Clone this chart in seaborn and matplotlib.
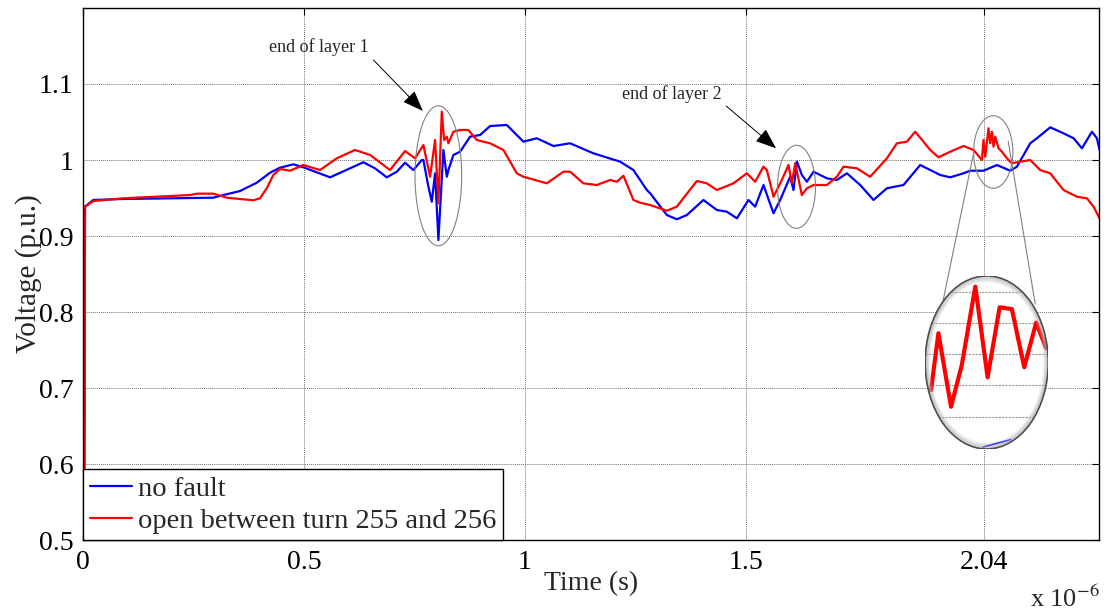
import numpy as np
import pandas as pd
import matplotlib
matplotlib.use("Agg")
import matplotlib.pyplot as plt
from matplotlib.patches import Ellipse
import seaborn as sns

# Terminal voltage after energisation; time in microseconds, voltage in p.u.
t_nofault = [0.0, 0.0039, 0.0226, 0.0906, 0.2945, 0.3171, 0.3549, 0.3928, 0.4229, 0.4455,
             0.4757, 0.4983, 0.5588, 0.6342, 0.6607, 0.6872, 0.7098, 0.7286, 0.7474, 0.7665,
             0.7701, 0.7807, 0.7891, 0.7966, 0.8041, 0.8154, 0.8231, 0.8267, 0.8381, 0.8532,
             0.8759, 0.8985, 0.9212, 0.9590, 0.9966, 1.0269, 1.0646, 1.1024, 1.1551, 1.2156,
             1.2457, 1.2761, 1.2836, 1.3214, 1.3440, 1.3667, 1.4043, 1.4347, 1.4573, 1.4800,
             1.5062, 1.5214, 1.5402, 1.5629, 1.5780, 1.6007, 1.6082, 1.6159, 1.6272, 1.6385,
             1.6535, 1.6838, 1.7065, 1.7291, 1.7592, 1.7894, 1.8197, 1.8573, 1.8951, 1.9404,
             1.9631, 1.9932, 2.0084, 2.0385, 2.0689, 2.0990, 2.1141, 2.1443, 2.1594, 2.1896,
             2.2197, 2.2424, 2.2614, 2.2840, 2.2953, 2.3012]
v_nofault = [0.0, 0.9386, 0.9474, 0.9487, 0.9504, 0.9539, 0.9592, 0.9701, 0.9833, 0.9899,
             0.9943, 0.9904, 0.9772, 0.9970, 0.9890, 0.9772, 0.9846, 0.9964, 0.9868, 1.0000,
             1.0000, 0.9670, 0.9451, 0.9825, 0.8947, 1.0132, 0.9780, 0.9868, 1.0066, 1.0109,
             1.0307, 1.0329, 1.0447, 1.0461, 1.0241, 1.0286, 1.0184, 1.0220, 1.0088, 0.9978,
             0.9868, 0.9605, 0.9562, 0.9276, 0.9220, 0.9276, 0.9474, 0.9342, 0.9320, 0.9233,
             0.9474, 0.9386, 0.9671, 0.9299, 0.9474, 0.9780, 0.9605, 0.9978, 0.9803, 0.9714,
             0.9846, 0.9759, 0.9737, 0.9825, 0.9671, 0.9474, 0.9628, 0.9671, 0.9934, 0.9803,
             0.9772, 0.9825, 0.9859, 0.9859, 0.9934, 0.9859, 0.9912, 1.0220, 1.0286, 1.0430,
             1.0351, 1.0286, 1.0154, 1.0372, 1.0286, 1.0132]

t_open = [0.0, 0.0039, 0.0226, 0.0906, 0.2417, 0.2568, 0.2945, 0.3248, 0.3851, 0.4002,
          0.4154, 0.4304, 0.4455, 0.4682, 0.4983, 0.5360, 0.5739, 0.6154, 0.6494, 0.6947,
          0.7286, 0.7513, 0.7701, 0.7853, 0.7966, 0.8041, 0.8118, 0.8170, 0.8231, 0.8267,
          0.8381, 0.8532, 0.8720, 0.8911, 0.9060, 0.9212, 0.9513, 0.9817, 0.9966, 1.0496,
          1.0872, 1.1024, 1.1325, 1.1629, 1.1930, 1.2082, 1.2231, 1.2457, 1.2609, 1.2836,
          1.3214, 1.3440, 1.3894, 1.4120, 1.4347, 1.4723, 1.5026, 1.5214, 1.5402, 1.5479,
          1.5629, 1.5818, 1.5968, 1.6045, 1.6120, 1.6272, 1.6385, 1.6535, 1.6838, 1.7065,
          1.7214, 1.7517, 1.7819, 1.8197, 1.8423, 1.8650, 1.8838, 1.9026, 1.9178, 1.9366,
          1.9631, 1.9932, 2.0159, 2.0349, 2.0385, 2.0424, 2.0498, 2.0536, 2.0575, 2.0612,
          2.0650, 2.0725, 2.0802, 2.0915, 2.1028, 2.1216, 2.1443, 2.1670, 2.1896, 2.2197,
          2.2501, 2.2727, 2.2877, 2.3012]
v_open = [0.0, 0.9386, 0.9460, 0.9496, 0.9539, 0.9557, 0.9557, 0.9504, 0.9470, 0.9496,
          0.9628, 0.9803, 0.9882, 0.9859, 0.9934, 0.9868, 1.0022, 1.0132, 1.0066, 0.9868,
          1.0118, 1.0022, 1.0197, 0.9780, 1.0263, 0.9430, 1.0636, 1.0263, 1.0307, 1.0220,
          1.0372, 1.0395, 1.0395, 1.0263, 1.0241, 1.0220, 1.0132, 0.9825, 0.9780, 0.9693,
          0.9846, 0.9846, 0.9693, 0.9671, 0.9737, 0.9714, 0.9793, 0.9474, 0.9438, 0.9408,
          0.9333, 0.9386, 0.9724, 0.9693, 0.9605, 0.9693, 0.9825, 0.9714, 0.9912, 0.9868,
          0.9517, 0.9737, 0.9934, 0.9693, 0.9957, 0.9539, 0.9628, 0.9671, 0.9671, 0.9780,
          0.9912, 0.9891, 0.9780, 1.0022, 1.0220, 1.0241, 1.0372, 1.0241, 1.0132, 1.0036,
          1.0109, 1.0184, 1.0132, 1.0000, 1.0263, 1.0043, 1.0417, 1.0220, 1.0372, 1.0175,
          1.0307, 1.0154, 1.0109, 1.0022, 0.9957, 0.9978, 1.0000, 0.9868, 0.9825, 0.9605,
          0.9517, 0.9496, 0.9386, 0.9233]

# Magnified view of the oscillation just after 2.04 us
t_zoom_open = [2.0369, 2.0393, 2.0434, 2.0469, 2.0513, 2.0553, 2.0592, 2.0632, 2.0672, 2.0711, 2.0743]
v_zoom_open = [1.0085, 1.0267, 1.0032, 1.0165, 1.0416, 1.0126, 1.0350, 1.0344, 1.0158, 1.0301, 1.0219]
t_zoom_nofault = [2.0538, 2.0629]
v_zoom_nofault = [0.9903, 0.9927]
zoom_grid_levels = [1.00, 1.01, 1.02, 1.03, 1.04]

series_names = ["no fault", "open between turn 255 and 256"]
series_colors = ["#0000ff", "#ff0000"]
x_ticks = [0, 0.5, 1, 1.5, 2.04]
x_tick_labels = ["0", "0.5", "1", "1.5", "2.04"]
y_ticks = [0.5, 0.6, 0.7, 0.8, 0.9, 1.0, 1.1]
y_tick_labels = ["0.5", "0.6", "0.7", "0.8", "0.9", "1", "1.1"]

sns.set_style("white")
plt.rcParams["font.family"] = ["Liberation Serif", "DejaVu Serif"]
plt.rcParams["mathtext.fontset"] = "stix"

df = pd.concat([
    pd.DataFrame({"Time": t_nofault, "Voltage": v_nofault, "case": series_names[0]}),
    pd.DataFrame({"Time": t_open, "Voltage": v_open, "case": series_names[1]}),
], ignore_index=True)

W, H = 1106, 614
fig = plt.figure(figsize=(W / 100, H / 100), dpi=100)
ax = fig.add_axes([83.3 / W, 74 / H, 1015.7 / W, 532 / H])

sns.lineplot(data=df, x="Time", y="Voltage", hue="case", hue_order=series_names,
             palette=series_colors, estimator=None, sort=False, linewidth=1.6,
             ax=ax, zorder=2)

ax.set_xlim(0, 2.3)
ax.set_ylim(0.5, 1.2)
ax.set_xticks(x_ticks)
ax.set_xticklabels(x_tick_labels)
ax.set_yticks(y_ticks)
ax.set_yticklabels(y_tick_labels)
ax.grid(True, color="0.45", linestyle=(0, (1, 1)), linewidth=0.7)
ax.set_axisbelow(True)
ax.tick_params(direction="in", length=5, width=0.8, top=True, right=True,
               labelsize=20, pad=7, colors="black")
for sp in ax.spines.values():
    sp.set_color("black")
    sp.set_linewidth(1.0)

ax.set_xlabel("Time (s)", fontsize=20)
ax.set_ylabel("Voltage (p.u.)", fontsize=21)
ax.xaxis.set_label_coords(0.5, -0.059)
ax.yaxis.set_label_coords(-0.041, 0.5)
fig.text(1100 / W, 7 / H, "x 10$^{-6}$", ha="right", va="baseline", fontsize=19)

handles, labels = ax.get_legend_handles_labels()
leg = ax.legend(handles, labels, loc="lower left", bbox_to_anchor=(0, 0),
                borderaxespad=0, fontsize=20.5, frameon=True, fancybox=False,
                edgecolor="black", framealpha=1, handlelength=1.5,
                handletextpad=0.2, labelspacing=0.22, borderpad=0.22)
leg.get_frame().set_linewidth(1.0)

# Highlighted regions at the layer ends
for (cx, cy, w, h) in [(0.804, 0.9793, 0.1058, 0.1842),
                       (1.615, 0.9647, 0.0861, 0.1092),
                       (2.0605, 1.0105, 0.0890, 0.0956)]:
    ax.add_patch(Ellipse((cx, cy), w, h, fill=False, edgecolor="0.5", lw=0.8, zorder=4))

arrow_kw = dict(arrowstyle="-|>,head_length=1.0,head_width=0.38", color="black",
                lw=0.7, shrinkA=0, shrinkB=0, mutation_scale=13)
ax.text(0.534, 1.149, "end of layer 1", fontsize=13, ha="center", va="center")
ax.annotate("", xy=(0.769, 1.0645), xytext=(0.657, 1.1316), arrowprops=arrow_kw)
ax.text(1.3334, 1.0868, "end of layer 2", fontsize=13, ha="center", va="center")
ax.annotate("", xy=(1.5688, 1.0154), xytext=(1.4557, 1.0711), arrowprops=arrow_kw)

# Magnifier connecting lines
ax.plot([2.0152, 1.9472], [1.0066, 0.8158], color="0.5", lw=0.8, zorder=3)
ax.plot([2.0944, 2.1556], [1.0250, 0.8105], color="0.5", lw=0.8, zorder=3)

# Magnified lens
ins = ax.inset_axes([1.9064, 0.6198, 0.2786, 0.2276], transform=ax.transData, zorder=6)
ins.axis("off")
ins.set_xlim(2.035, 2.075)
ins.set_ylim(0.9897, 1.045)
lens = Ellipse((0.5, 0.5), 1, 1, transform=ins.transAxes, facecolor="white",
               edgecolor="none", zorder=0)
ins.add_patch(lens)
for lvl in zoom_grid_levels:
    ins.axhline(lvl, color="0.6", linestyle=(0, (2, 1)), lw=0.8, zorder=1, clip_path=lens)
sns.lineplot(x=t_zoom_open, y=v_zoom_open, ax=ins, color=series_colors[1], linewidth=3.0,
             estimator=None, sort=False, zorder=3)
sns.lineplot(x=t_zoom_nofault, y=v_zoom_nofault, ax=ins, color=series_colors[0], linewidth=1.2,
             estimator=None, sort=False, zorder=3)
for ln in ins.lines:
    ln.set_clip_path(lens)
for k, s in enumerate([0.985, 0.965, 0.945]):
    ins.add_patch(Ellipse((0.5, 0.5), s, s, transform=ins.transAxes, fill=False,
                          edgecolor="0.7", alpha=0.45 - 0.13 * k, lw=2.2, zorder=4))
ins.add_patch(Ellipse((0.5, 0.5), 1, 1, transform=ins.transAxes, fill=False,
                      edgecolor="0.3", lw=1.2, zorder=5))
ins.set_xlabel("")
ins.set_ylabel("")

fig.savefig("out.png", dpi=100)
